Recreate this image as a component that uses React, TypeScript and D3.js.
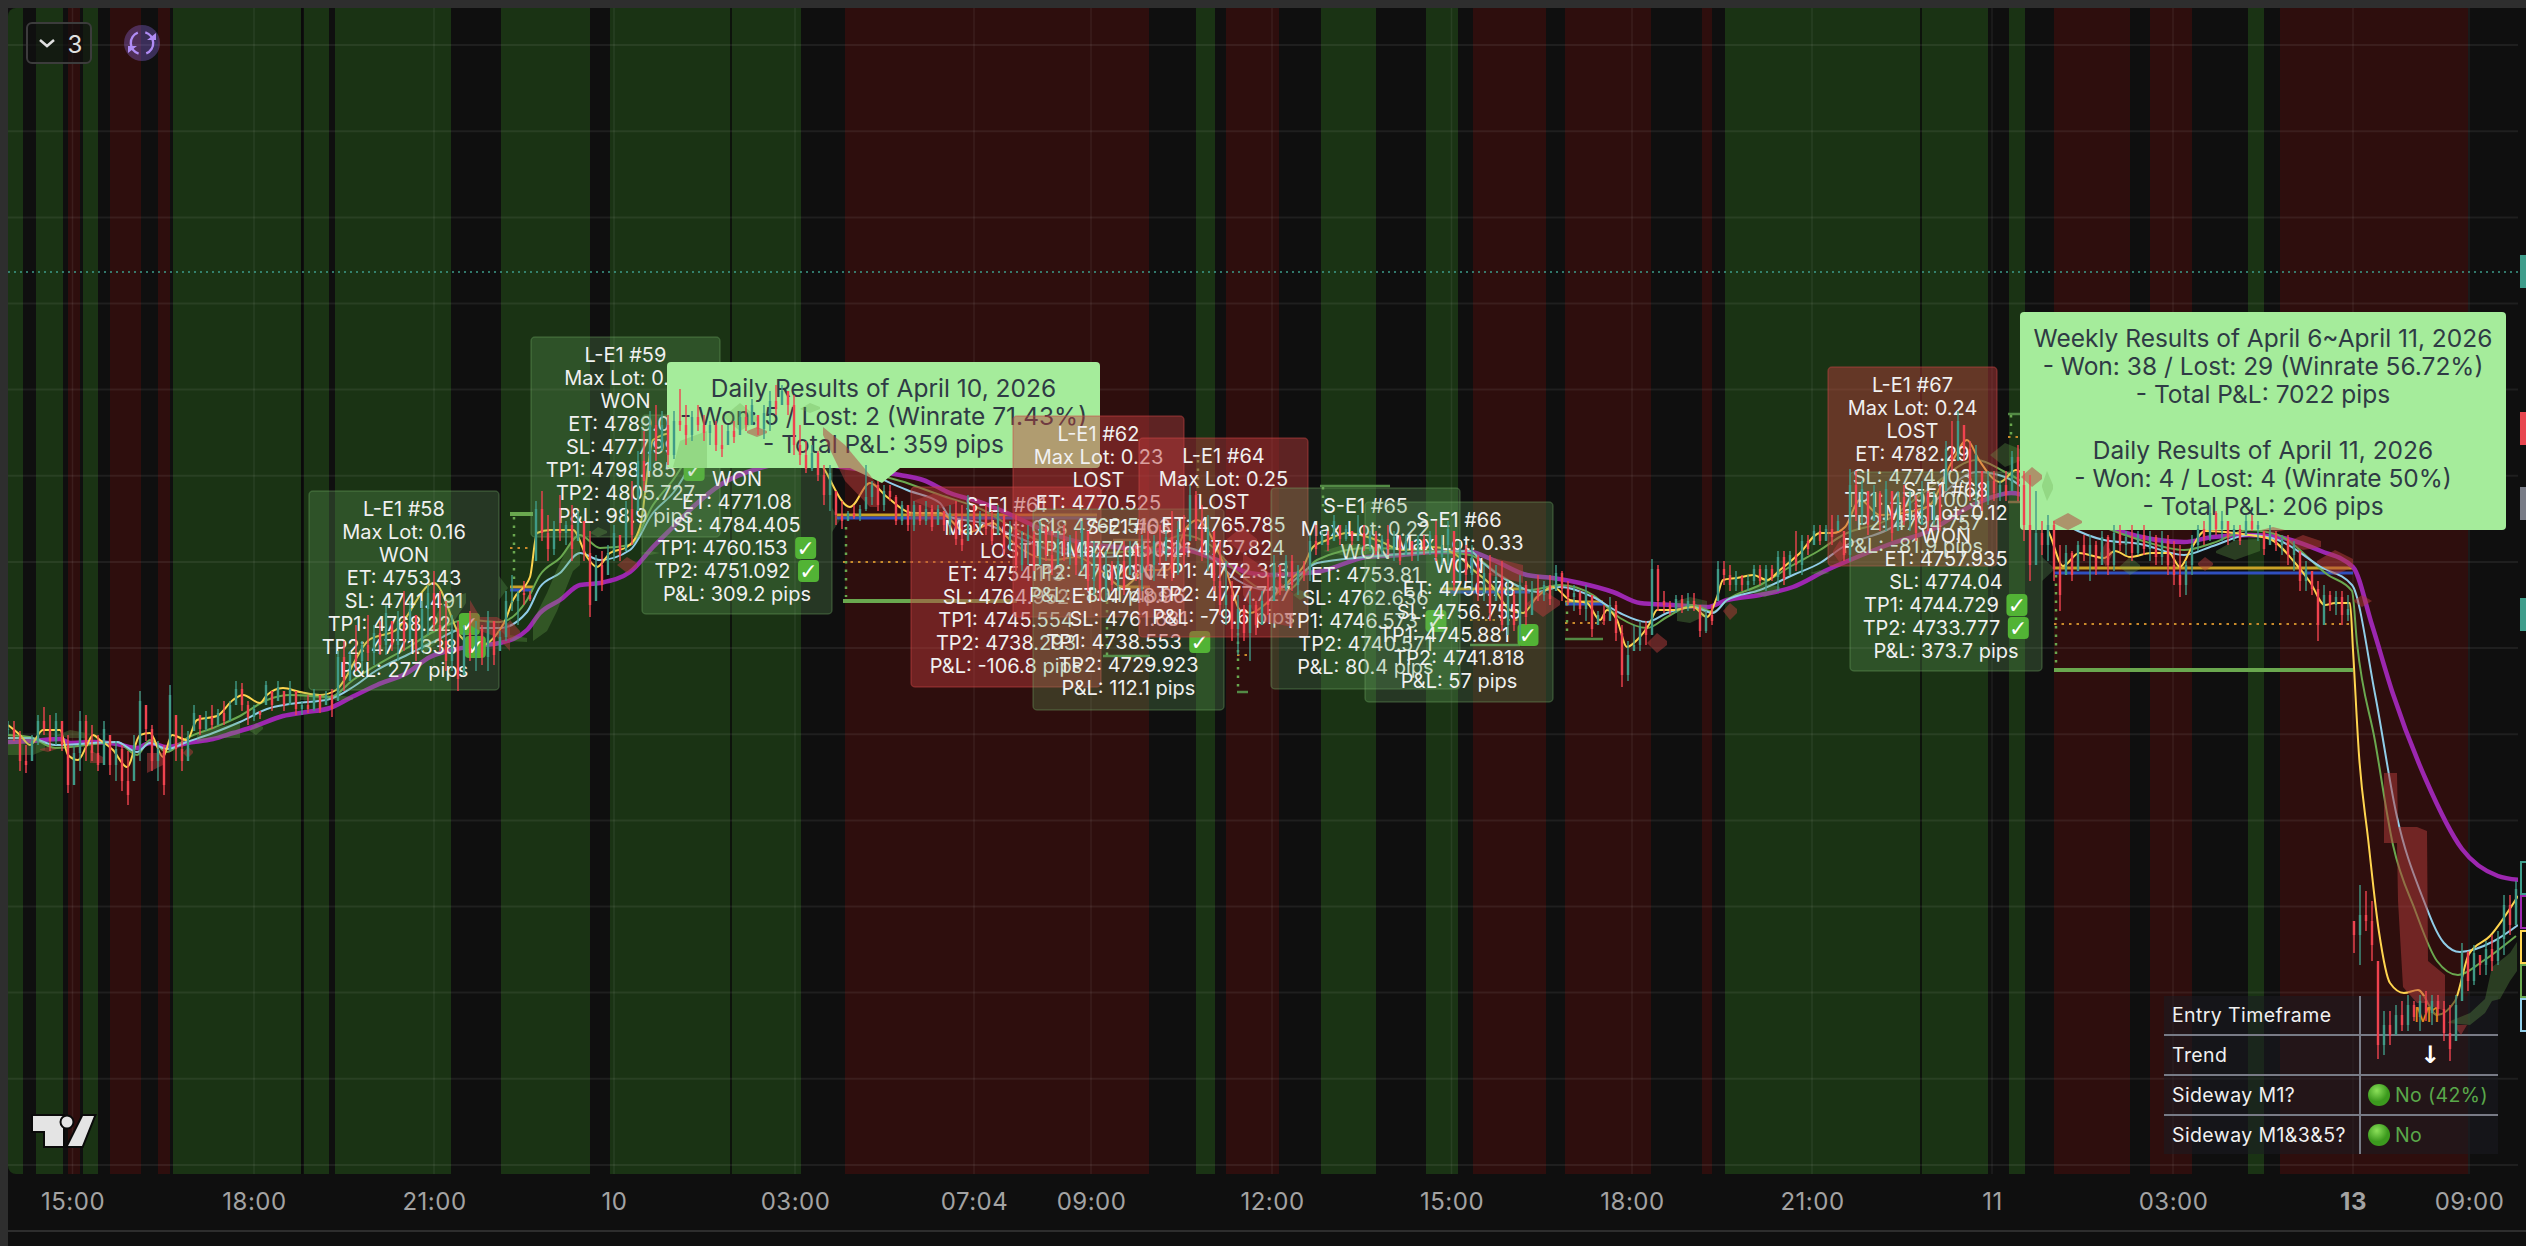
import { useRef, useEffect } from 'react';
import * as d3 from 'd3';

// x is the bar slot of the chart (one slot per minute bar), y is price
const tickBars = [72.5, 254, 434, 614, 795, 974, 1091, 1272, 1451.5, 1632, 1812, 1992, 2173, 2353, 2469];
const tickLabels = ['15:00', '18:00', '21:00', '10', '03:00', '07:04', '09:00', '12:00', '15:00', '18:00', '21:00', '11', '03:00', '13', '09:00'];
const gridPrices = [5050, 5006.9, 4963.8, 4920.8, 4877.7, 4834.6, 4791.5, 4748.5, 4705.4, 4662.3, 4619.2, 4576.2, 4533.1, 4490];
const sessionBreaks = [302, 731, 1921];

const greenBands = [[8, 23], [36, 63], [83, 98], [173, 301], [304, 329], [335, 451], [501, 590], [610, 801], [1196, 1215], [1321, 1376], [1426, 1458], [1725, 1988], [2009, 2025], [2248, 2264]];
const redBands = [[68, 80], [110, 141], [158, 170], [845, 1149], [1226, 1279], [1473, 1546], [1565, 1651], [1702, 1712], [2054, 2130], [2150, 2192], [2280, 2468]];

const firstCandleBar = 8;
const candleStep = 6;
const candleHigh = [
  4712, 4712, 4707, 4700, 4705, 4715, 4719, 4715, 4716, 4712, 4705, 4700, 4717, 4715, 4710, 4705, 4712, 4705, 4702, 4700,
  4697, 4705, 4727, 4720, 4710, 4702, 4700, 4730, 4715, 4710, 4707, 4720, 4715, 4717, 4720, 4718, 4722, 4722, 4732, 4731,
  4722, 4720, 4717, 4732, 4727, 4732, 4727, 4732, 4727, 4722, 4725, 4728, 4725, 4727, 4728, 4747, 4752, 4747, 4760, 4752,
  4765, 4760, 4762, 4770, 4762, 4767, 4777, 4772, 4765, 4772, 4780, 4787, 4777, 4772, 4765, 4762, 4760, 4767, 4762, 4760,
  4767, 4762, 4757, 4777, 4785, 4777, 4782, 4777, 4822, 4827, 4815, 4812, 4825, 4812, 4820, 4817, 4812, 4807, 4795, 4797,
  4800, 4810, 4805, 4822, 4832, 4847, 4857, 4867, 4870, 4867, 4865, 4867, 4878, 4870, 4867, 4870, 4865, 4862, 4862, 4860,
  4860, 4862, 4867, 4870, 4873, 4865, 4870, 4877, 4880, 4880, 4877, 4875, 4860, 4852, 4850, 4847, 4840, 4840, 4827, 4822,
  4817, 4820, 4820, 4840, 4832, 4832, 4830, 4830, 4825, 4822, 4820, 4822, 4820, 4822, 4820, 4820, 4817, 4820, 4822, 4820,
  4825, 4820, 4817, 4820, 4817, 4820, 4815, 4812, 4815, 4807, 4810, 4807, 4812, 4810, 4807, 4807, 4810, 4805, 4807, 4812,
  4807, 4802, 4800, 4797, 4792, 4795, 4802, 4802, 4800, 4805, 4807, 4805, 4810, 4807, 4817, 4812, 4815, 4830, 4827, 4820,
  4815, 4807, 4802, 4792, 4782, 4775, 4770, 4777, 4772, 4777, 4785, 4795, 4790, 4795, 4795, 4790, 4792, 4805, 4810, 4807,
  4807, 4815, 4810, 4810, 4807, 4815, 4810, 4807, 4807, 4805, 4810, 4807, 4805, 4805, 4802, 4805, 4805, 4807, 4812, 4805,
  4812, 4807, 4802, 4800, 4800, 4795, 4790, 4795, 4790, 4792, 4782, 4777, 4785, 4782, 4782, 4785, 4782, 4785, 4790, 4787,
  4782, 4780, 4777, 4780, 4775, 4767, 4770, 4774, 4772, 4760, 4752, 4760, 4762, 4762, 4793, 4790, 4777, 4772, 4775, 4775,
  4776, 4776, 4770, 4767, 4770, 4792, 4792, 4790, 4787, 4785, 4785, 4790, 4790, 4790, 4790, 4797, 4797, 4797, 4807, 4805,
  4805, 4810, 4810, 4810, 4815, 4815, 4807, 4838, 4837, 4832, 4827, 4830, 4827, 4832, 4827, 4827, 4830, 4827, 4825, 4832,
  4827, 4827, 4830, 4852, 4862, 4867, 4860, 4852, 4850, 4837, 4837, 4837, 4832, 4837, 4847, 4850, 4837, 4835, 4827, 4812,
  4815, 4812, 4800, 4800, 4797, 4802, 4805, 4805, 4802, 4807, 4805, 4810, 4810, 4807, 4810, 4807, 4810, 4807, 4805, 4807,
  4805, 4802, 4800, 4792, 4805, 4810, 4812, 4820, 4817, 4817, 4812, 4810, 4810, 4815, 4815, 4812, 4807, 4810, 4807, 4805,
  4805, 4802, 4797, 4792, 4787, 4782, 4780, 4777, 4777, 4777, 4775, 4612, 4630, 4627, 4622, 4592, 4567, 4567, 4570, 4572,
  4575, 4572, 4575, 4577, 4575, 4575, 4572, 4570, 4575, 4601, 4597, 4600, 4595, 4602, 4605, 4607, 4625, 4625, 4632,
];
const candleLow = [
  4705, 4702, 4687, 4686, 4692, 4700, 4705, 4697, 4700, 4697, 4676, 4680, 4687, 4692, 4692, 4687, 4690, 4685, 4682, 4677,
  4670, 4682, 4692, 4702, 4687, 4682, 4675, 4697, 4692, 4687, 4692, 4707, 4705, 4707, 4708, 4710, 4710, 4712, 4720, 4717,
  4710, 4712, 4713, 4720, 4717, 4722, 4717, 4720, 4715, 4715, 4716, 4717, 4716, 4720, 4714, 4722, 4727, 4732, 4737, 4737,
  4742, 4740, 4745, 4745, 4747, 4742, 4747, 4752, 4742, 4747, 4755, 4757, 4747, 4737, 4737, 4727, 4735, 4742, 4737, 4740,
  4737, 4740, 4747, 4752, 4767, 4760, 4770, 4772, 4792, 4802, 4792, 4795, 4802, 4800, 4792, 4802, 4792, 4764, 4772, 4777,
  4785, 4792, 4792, 4797, 4800, 4817, 4827, 4837, 4842, 4847, 4840, 4843, 4857, 4850, 4852, 4857, 4852, 4850, 4847, 4844,
  4850, 4851, 4855, 4857, 4860, 4855, 4853, 4857, 4865, 4870, 4865, 4845, 4840, 4836, 4837, 4832, 4820, 4817, 4810, 4808,
  4812, 4813, 4812, 4817, 4820, 4817, 4817, 4822, 4810, 4810, 4807, 4807, 4810, 4810, 4807, 4810, 4807, 4805, 4800, 4797,
  4802, 4807, 4807, 4805, 4800, 4805, 4795, 4797, 4787, 4787, 4790, 4787, 4790, 4792, 4785, 4790, 4792, 4790, 4785, 4787,
  4777, 4775, 4772, 4772, 4777, 4777, 4775, 4785, 4782, 4777, 4787, 4782, 4790, 4792, 4782, 4785, 4790, 4802, 4802, 4792,
  4787, 4777, 4765, 4760, 4752, 4745, 4752, 4742, 4755, 4760, 4765, 4772, 4775, 4777, 4777, 4775, 4782, 4782, 4795, 4800,
  4797, 4802, 4800, 4802, 4800, 4802, 4797, 4797, 4795, 4795, 4795, 4792, 4790, 4795, 4792, 4792, 4795, 4795, 4792, 4790,
  4790, 4777, 4782, 4782, 4777, 4772, 4772, 4762, 4772, 4757, 4755, 4757, 4752, 4760, 4765, 4772, 4772, 4770, 4777, 4772,
  4770, 4767, 4765, 4762, 4754, 4760, 4760, 4762, 4752, 4729, 4732, 4747, 4747, 4750, 4755, 4767, 4766, 4765, 4766, 4766,
  4767, 4767, 4754, 4756, 4760, 4772, 4780, 4777, 4777, 4777, 4777, 4780, 4780, 4777, 4782, 4777, 4780, 4785, 4787, 4785,
  4795, 4800, 4800, 4802, 4800, 4807, 4792, 4792, 4812, 4810, 4805, 4812, 4807, 4807, 4802, 4807, 4810, 4807, 4802, 4810,
  4807, 4810, 4807, 4827, 4837, 4842, 4842, 4822, 4820, 4817, 4820, 4822, 4822, 4822, 4827, 4822, 4802, 4782, 4790, 4795,
  4792, 4782, 4767, 4785, 4782, 4787, 4792, 4782, 4785, 4790, 4785, 4787, 4797, 4795, 4792, 4795, 4795, 4792, 4790, 4790,
  4785, 4780, 4774, 4775, 4785, 4797, 4800, 4802, 4805, 4802, 4800, 4802, 4800, 4805, 4807, 4802, 4795, 4800, 4797, 4795,
  4790, 4787, 4777, 4777, 4775, 4752, 4760, 4767, 4765, 4760, 4762, 4596, 4590, 4607, 4592, 4543, 4545, 4550, 4555, 4557,
  4557, 4562, 4557, 4562, 4560, 4565, 4552, 4542, 4552, 4572, 4577, 4580, 4585, 4585, 4587, 4590, 4595, 4605, 4610,
];
const candleClose = [
  4708, 4704, 4692, 4690, 4702, 4712, 4708, 4702, 4712, 4700, 4680, 4696, 4712, 4700, 4696, 4690, 4708, 4690, 4698, 4682,
  4675, 4700, 4722, 4708, 4692, 4698, 4680, 4725, 4698, 4692, 4704, 4716, 4708, 4714, 4710, 4716, 4712, 4720, 4728, 4720,
  4714, 4718, 4715, 4730, 4720, 4729, 4720, 4728, 4718, 4720, 4718, 4726, 4718, 4725, 4718, 4744, 4732, 4745, 4742, 4750,
  4746, 4756, 4750, 4766, 4750, 4762, 4752, 4768, 4748, 4768, 4776, 4760, 4752, 4742, 4758, 4733, 4756, 4746, 4758, 4744,
  4762, 4745, 4754, 4772, 4772, 4776, 4775, 4773, 4818, 4806, 4798, 4808, 4806, 4810, 4798, 4812, 4796, 4770, 4790, 4780,
  4796, 4806, 4795, 4818, 4805, 4842, 4832, 4860, 4848, 4860, 4845, 4862, 4860, 4855, 4864, 4860, 4856, 4860, 4850, 4848,
  4857, 4854, 4864, 4860, 4870, 4858, 4866, 4872, 4868, 4877, 4870, 4850, 4845, 4838, 4846, 4835, 4825, 4836, 4815, 4812,
  4816, 4814, 4818, 4824, 4830, 4820, 4827, 4824, 4812, 4820, 4810, 4820, 4812, 4818, 4809, 4818, 4810, 4816, 4803, 4800,
  4820, 4810, 4815, 4808, 4802, 4816, 4798, 4808, 4790, 4803, 4805, 4790, 4808, 4795, 4788, 4803, 4796, 4802, 4790, 4808,
  4782, 4796, 4778, 4790, 4780, 4792, 4778, 4798, 4786, 4800, 4790, 4802, 4795, 4804, 4786, 4808, 4795, 4825, 4808, 4796,
  4808, 4782, 4770, 4775, 4758, 4768, 4756, 4770, 4760, 4772, 4770, 4790, 4778, 4792, 4780, 4787, 4785, 4802, 4798, 4805,
  4800, 4812, 4803, 4808, 4802, 4806, 4800, 4805, 4797, 4803, 4798, 4804, 4792, 4802, 4795, 4803, 4798, 4805, 4794, 4800,
  4808, 4780, 4798, 4785, 4794, 4776, 4786, 4766, 4784, 4760, 4775, 4760, 4780, 4764, 4778, 4775, 4780, 4773, 4786, 4778,
  4774, 4776, 4768, 4776, 4758, 4765, 4762, 4770, 4756, 4735, 4745, 4750, 4759, 4755, 4788, 4772, 4770, 4768, 4773, 4769,
  4772, 4770, 4757, 4765, 4762, 4788, 4785, 4780, 4784, 4780, 4782, 4788, 4782, 4788, 4784, 4794, 4783, 4795, 4790, 4802,
  4798, 4807, 4802, 4808, 4804, 4812, 4795, 4830, 4815, 4828, 4810, 4826, 4812, 4828, 4806, 4824, 4812, 4822, 4806, 4826,
  4812, 4824, 4812, 4848, 4842, 4862, 4848, 4830, 4845, 4822, 4832, 4826, 4830, 4825, 4844, 4830, 4810, 4790, 4806, 4800,
  4810, 4788, 4775, 4796, 4785, 4800, 4795, 4800, 4788, 4804, 4790, 4806, 4800, 4804, 4796, 4805, 4798, 4804, 4794, 4802,
  4790, 4785, 4780, 4790, 4800, 4808, 4804, 4816, 4808, 4812, 4804, 4808, 4802, 4812, 4808, 4810, 4798, 4806, 4800, 4803,
  4795, 4800, 4782, 4788, 4778, 4760, 4775, 4770, 4774, 4765, 4768, 4605, 4615, 4612, 4600, 4550, 4560, 4555, 4565, 4560,
  4570, 4564, 4572, 4566, 4572, 4568, 4556, 4548, 4570, 4596, 4582, 4596, 4590, 4598, 4592, 4603, 4620, 4610, 4628,
];

const purpleLine = [[8, 4701.5], [33, 4702], [60, 4703], [70, 4701], [93, 4701.5], [117, 4700.5], [137, 4698.5], [150, 4701], [167, 4699], [187, 4701], [213, 4703], [233, 4706], [253, 4709], [283, 4714.5], [307, 4716.5], [330, 4718.5], [350, 4723.5], [377, 4730], [407, 4736], [430, 4744], [457, 4748], [483, 4750], [500, 4751], [527, 4757.5], [540, 4766], [560, 4772.5], [580, 4780], [600, 4781], [630, 4786.5], [653, 4799], [673, 4809], [693, 4819], [720, 4830], [760, 4838.5], [800, 4841.5], [850, 4838.5], [900, 4835], [923, 4832.5], [950, 4826], [983, 4821], [1007, 4816], [1050, 4806], [1083, 4801], [1117, 4799], [1150, 4797.5], [1183, 4797.5], [1217, 4792.5], [1250, 4786], [1270, 4785], [1317, 4786.5], [1367, 4794], [1400, 4795], [1433, 4796.5], [1470, 4796.5], [1493, 4792.5], [1527, 4785], [1553, 4783.5], [1580, 4781], [1613, 4776.5], [1640, 4771], [1673, 4770], [1707, 4769], [1727, 4772.5], [1760, 4775], [1793, 4779], [1827, 4787.5], [1850, 4792.5], [1893, 4801], [1927, 4806.5], [1977, 4821], [2011, 4826], [2050, 4820], [2090, 4812.5], [2119, 4807], [2184, 4801.5], [2213, 4804], [2249, 4805], [2278, 4804], [2321, 4797], [2353, 4789], [2372, 4760], [2393, 4725.5], [2426, 4682.5], [2462, 4648], [2498, 4634.5], [2520, 4632.5]];
const blueLine = [[8, 4703.5], [30, 4703.5], [55, 4700], [117, 4701.5], [137, 4696.5], [150, 4701], [167, 4698], [187, 4701.5], [213, 4706], [240, 4711.5], [267, 4718], [290, 4720.5], [330, 4723], [353, 4729], [377, 4737.5], [407, 4745], [433, 4751.5], [467, 4758.5], [500, 4758.5], [527, 4766.5], [540, 4779], [560, 4786], [580, 4796], [600, 4792.5], [630, 4797.5], [653, 4816], [673, 4826], [693, 4841], [730, 4852.5], [780, 4852.5], [850, 4847.5], [873, 4836], [907, 4827.5], [940, 4821], [950, 4814], [983, 4811], [1017, 4804], [1050, 4797.5], [1100, 4794], [1150, 4796], [1183, 4799], [1210, 4794], [1237, 4782.5], [1267, 4777.5], [1287, 4780], [1317, 4791], [1367, 4794], [1417, 4796], [1470, 4797], [1483, 4791], [1510, 4781.5], [1537, 4776.5], [1560, 4779], [1593, 4774], [1620, 4766], [1647, 4761.5], [1667, 4766], [1693, 4769], [1713, 4766], [1727, 4772.5], [1760, 4777.5], [1793, 4785], [1820, 4791], [1843, 4799], [1887, 4807.5], [1927, 4819], [1977, 4836.5], [2005, 4834], [2068, 4809.5], [2104, 4802.5], [2140, 4800.5], [2184, 4795], [2213, 4799.5], [2249, 4805], [2278, 4802.5], [2321, 4789], [2352, 4780], [2375, 4725.5], [2397, 4664], [2422, 4624.5], [2444, 4601], [2460, 4596.5], [2494, 4602], [2518, 4610]];
const greenLine = [[8, 4705], [30, 4704], [55, 4698.5], [117, 4701.5], [137, 4695], [150, 4702.5], [167, 4696.5], [187, 4703.5], [213, 4708.5], [240, 4714.5], [267, 4722.5], [290, 4725], [330, 4724], [353, 4732.5], [377, 4740], [407, 4748.5], [433, 4756.5], [467, 4762.5], [500, 4761.5], [527, 4772.5], [540, 4785], [560, 4793.5], [580, 4805], [600, 4798.5], [630, 4800], [653, 4820], [673, 4832.5], [693, 4847.5], [720, 4860], [780, 4857.5], [850, 4850], [873, 4837.5], [907, 4831], [940, 4825], [983, 4817.5], [1017, 4807.5], [1050, 4800], [1100, 4796], [1150, 4798.5], [1183, 4805], [1210, 4800], [1237, 4786.5], [1267, 4777.5], [1287, 4777.5], [1317, 4792.5], [1367, 4798.5], [1417, 4797.5], [1470, 4795], [1500, 4785], [1530, 4777.5], [1560, 4780], [1593, 4775], [1620, 4763.5], [1647, 4758.5], [1667, 4764], [1693, 4770], [1713, 4766.5], [1727, 4772.5], [1760, 4780], [1793, 4790], [1820, 4797.5], [1843, 4805], [1887, 4812.5], [1927, 4827.5], [1977, 4842.5], [2005, 4836.5], [2068, 4817.5], [2104, 4809], [2140, 4802.5], [2184, 4797.5], [2213, 4801], [2249, 4807.5], [2278, 4805], [2328, 4785], [2352, 4777], [2357, 4751], [2375, 4702], [2393, 4650], [2415, 4617.5], [2437, 4592], [2458, 4585], [2483, 4592], [2516, 4604.5]];
const yellowLine = [[8, 4710], [20, 4705], [30, 4700], [43, 4707.5], [60, 4707.5], [68, 4695], [78, 4692.5], [87, 4700], [93, 4705], [100, 4702.5], [113, 4697.5], [127, 4689], [140, 4705], [150, 4706], [163, 4694], [172, 4705], [187, 4702.5], [197, 4712.5], [217, 4714.5], [233, 4722.5], [243, 4725], [260, 4721], [267, 4725], [283, 4728.5], [300, 4726.5], [320, 4725], [336, 4727.5], [369, 4752.5], [396, 4757.5], [434, 4781], [461, 4754], [477, 4749], [504, 4761], [513, 4772.5], [530, 4784], [537, 4806], [550, 4807.5], [573, 4807.5], [587, 4794], [597, 4789], [610, 4796], [627, 4799], [640, 4809], [653, 4852.5], [673, 4856], [720, 4852.5], [800, 4857.5], [823, 4839], [850, 4819], [870, 4831], [887, 4824], [913, 4816], [940, 4816], [967, 4806], [993, 4811], [1007, 4804], [1023, 4797.5], [1053, 4792.5], [1077, 4794], [1100, 4787.5], [1123, 4779], [1147, 4787.5], [1167, 4787.5], [1187, 4809], [1197, 4812.5], [1213, 4802.5], [1227, 4786], [1240, 4767.5], [1250, 4766], [1270, 4772.5], [1290, 4782.5], [1303, 4789], [1313, 4799], [1327, 4802.5], [1347, 4806], [1377, 4802.5], [1403, 4797.5], [1433, 4799], [1463, 4792.5], [1470, 4789], [1493, 4779], [1510, 4767.5], [1523, 4766], [1537, 4774], [1553, 4779], [1570, 4772.5], [1587, 4771], [1600, 4762.5], [1607, 4767.5], [1617, 4762.5], [1627, 4749], [1637, 4752.5], [1650, 4761], [1657, 4767.5], [1673, 4767.5], [1693, 4769], [1707, 4764], [1717, 4774], [1723, 4782.5], [1737, 4783.5], [1753, 4785], [1767, 4782.5], [1780, 4787.5], [1800, 4796], [1820, 4806], [1833, 4806], [1845, 4809], [1860, 4822.5], [1880, 4815], [1927, 4819], [1953, 4842.5], [1967, 4852.5], [1979, 4842.5], [2000, 4831.5], [2016, 4837.5], [2050, 4805], [2063, 4789.5], [2079, 4796], [2104, 4793.5], [2115, 4797], [2130, 4794], [2151, 4796], [2169, 4796], [2180, 4789], [2191, 4798], [2205, 4807], [2249, 4805], [2270, 4803], [2296, 4790.5], [2310, 4781.5], [2325, 4770], [2335, 4771], [2350, 4771], [2353, 4747.5], [2359, 4695], [2368, 4653.5], [2379, 4606.5], [2390, 4581], [2404, 4576], [2418, 4577.5], [2437, 4565], [2455, 4572], [2469, 4595.5], [2490, 4604.5], [2518, 4624.5]];

// cloud patches: [bar, upper, lower]
const greenCloud = [
  [[8, 4705, 4695], [33, 4704, 4695], [45, 4701.5, 4697.5]],
  [[57, 4705, 4704.5], [70, 4707.5, 4703.5], [87, 4706, 4703.5]],
  [[197, 4705, 4701.5], [215, 4708.5, 4703.5], [240, 4711.5, 4703.5]],
  [[250, 4708, 4707], [256, 4711, 4705], [263, 4709, 4708]],
  [[300, 4726.5, 4722.5], [353, 4724, 4722.5]],
  [[423, 4752.5, 4745], [445, 4773, 4755], [466, 4776, 4771]],
  [[510, 4755, 4752], [527, 4753.5, 4751.5]],
  [[533, 4762, 4752], [547, 4776, 4757], [557, 4788, 4767], [573, 4804, 4787], [580, 4804, 4790]],
  [[590, 4806, 4806], [598, 4809, 4804], [607, 4807, 4806]],
  [[640, 4796, 4796], [650, 4797, 4795], [660, 4796, 4796]],
  [[673, 4839, 4839], [680, 4852, 4838.5], [707, 4857, 4838.5]],
  [[723, 4864, 4864], [740, 4871, 4857], [757, 4864, 4862]],
  [[800, 4868, 4868], [810, 4871, 4866], [820, 4869, 4868]],
  [[1293, 4775, 4775], [1300, 4777.5, 4772.5], [1310, 4775, 4775]],
  [[1323, 4797, 4797], [1350, 4801, 4794], [1383, 4798, 4797]],
  [[1677, 4772, 4762], [1690, 4774, 4761], [1707, 4772, 4765]],
  [[1747, 4778, 4777], [1765, 4781, 4774], [1780, 4779, 4777]],
  [[1810, 4786, 4786], [1820, 4787.5, 4785], [1830, 4786, 4786]],
  [[1990, 4845, 4845], [2005, 4851, 4839], [2020, 4848, 4842]],
  [[2042, 4830, 4829], [2047, 4837, 4822], [2053, 4830, 4828]],
  [[2119, 4789, 4789], [2130, 4794, 4785], [2140, 4790, 4788]],
  [[2216, 4797, 4796], [2235, 4802.5, 4792.5], [2260, 4803, 4797]],
  [[2448, 4561.5, 4561], [2470, 4566, 4560], [2485, 4573, 4566], [2492, 4589, 4572], [2500, 4592, 4573], [2510, 4596, 4582], [2517, 4601.5, 4587]],
];
const redCloud = [
  [[40, 4698, 4697.5], [48, 4699, 4696.5], [57, 4698, 4698]],
  [[90, 4697.5, 4691], [103, 4694, 4691]],
  [[147, 4696, 4686], [163, 4696, 4690]],
  [[183, 4696, 4696], [188, 4699, 4693.5], [193, 4697, 4696]],
  [[470, 4772.5, 4760], [480, 4764, 4757], [497, 4764, 4754], [510, 4760, 4747]],
  [[501, 4757, 4757], [510, 4762.5, 4752.5], [520, 4757, 4756]],
  [[617, 4790, 4790], [627, 4794, 4786], [637, 4791, 4789]],
  [[747, 4857, 4856], [757, 4859, 4854], [767, 4857, 4856]],
  [[823, 4859, 4855], [845, 4850, 4832], [870, 4835, 4819], [877, 4830, 4819]],
  [[913, 4822, 4822], [935, 4826, 4817.5], [957, 4822, 4821]],
  [[1227, 4803, 4802], [1242, 4809, 4796], [1257, 4803, 4800]],
  [[1243, 4796, 4775], [1260, 4790, 4762], [1293, 4776, 4759]],
  [[1490, 4794, 4785], [1523, 4790, 4781]],
  [[1527, 4771, 4770], [1543, 4777.5, 4764], [1560, 4772, 4770]],
  [[1647, 4751, 4751], [1657, 4756, 4746], [1667, 4752, 4750]],
  [[1723, 4767, 4767], [1730, 4771, 4762.5], [1737, 4768, 4766]],
  [[1833, 4797, 4796], [1840, 4802.5, 4791], [1847, 4797, 4796]],
  [[2021, 4834, 4834], [2032, 4839, 4829], [2042, 4835, 4833]],
  [[2053, 4812, 4811], [2068, 4816, 4807.5], [2082, 4812, 4811]],
  [[2100, 4796, 4795], [2106, 4801.5, 4789], [2112, 4796, 4795]],
  [[2198, 4791, 4790], [2205, 4794, 4787], [2213, 4791, 4790]],
  [[2261, 4807.5, 4807.5], [2273, 4809, 4806], [2285, 4807.5, 4807.5]],
  [[2285, 4801, 4801], [2303, 4805, 4797.5], [2321, 4802, 4799]],
  [[2317, 4792, 4791], [2335, 4797.5, 4785], [2353, 4793, 4789]],
  [[2353, 4772, 4772], [2362, 4775, 4769], [2372, 4772, 4772]],
  [[2384, 4686, 4651], [2397, 4686, 4651], [2398, 4659, 4622], [2403, 4659, 4579], [2417, 4659, 4571], [2427, 4657, 4571], [2428, 4592, 4570], [2445, 4585, 4567]],
  [[2455, 4560, 4559], [2461, 4560, 4555], [2467, 4560, 4560]],
];

// trade levels: [fromBar, toBar, price]
const targetLevels = [[510, 533, 4815.5], [843, 1017, 4772], [2054, 2353, 4737.5]];
const thinTargetLevels = [[1103, 1150, 4744.5], [1320, 1390, 4829.5], [1237, 1248, 4726.5], [1470, 1520, 4750], [1565, 1603, 4753], [2008, 2021, 4865.5]];
const entryLevels = [[510, 530, 4798.5], [843, 1010, 4791.5], [1237, 1248, 4745], [1470, 1520, 4762.5], [1565, 1603, 4761], [2054, 2353, 4760.5], [2008, 2021, 4854]];
const yellowLevels = [[510, 533, 4779], [837, 1097, 4815], [1120, 1150, 4779], [1440, 1523, 4778], [1565, 1603, 4771.5], [2054, 2353, 4788.5]];
const blueLevels = [[510, 533, 4777.5], [837, 1097, 4813.5], [1440, 1530, 4776.5], [1565, 1603, 4770.5], [2054, 2353, 4786]];
const brownLevels = [[1113, 1150, 4802.5], [2008, 2021, 4821.5]];
// dotted stems: [bar, fromPrice, toPrice]
const levelStems = [[514, 4814, 4783], [846, 4809, 4774], [1107, 4776, 4745], [1323, 4829, 4817.5], [1238, 4756, 4727.5], [1198, 4842.5, 4825], [1567, 4771, 4754], [2056, 4785, 4740], [2011, 4865, 4854]];
const alertPrice = 4936.5;

const trade58 = ['L-E1 #58', 'Max Lot: 0.16', 'WON', 'ET: 4753.43', 'SL: 4741.491', 'TP1: 4768.22 ✅', 'TP2: 4771.338 ✅', 'P&L: 277 pips'];
const trade59 = ['L-E1 #59', 'Max Lot: 0.17', 'WON', 'ET: 4789.04', 'SL: 4777.991', 'TP1: 4798.185 ✅', 'TP2: 4805.727', 'P&L: 98.9 pips'];
const trade60 = ['S-E1 #60', 'Max Lot: 0.14', 'WON', 'ET: 4771.08', 'SL: 4784.405', 'TP1: 4760.153 ✅', 'TP2: 4751.092 ✅', 'P&L: 309.2 pips'];
const trade61 = ['S-E1 #61', 'Max Lot: 0.18', 'LOST', 'ET: 4754.113', 'SL: 4764.952', 'TP1: 4745.554', 'TP2: 4738.293', 'P&L: -106.8 pips'];
const trade62 = ['L-E1 #62', 'Max Lot: 0.23', 'LOST', 'ET: 4770.525', 'SL: 4762.510', 'TP1: 4777.450', 'TP2: 4782.804', 'P&L: -80.1 pips'];
const trade63 = ['S-E1 #63', 'Max Lot: 0.21', 'WON', 'ET: 4748.96', 'SL: 4761.681', 'TP1: 4738.553 ✅', 'TP2: 4729.923', 'P&L: 112.1 pips'];
const trade64 = ['L-E1 #64', 'Max Lot: 0.25', 'LOST', 'ET: 4765.785', 'SL: 4757.824', 'TP1: 4772.313', 'TP2: 4777.727', 'P&L: -79.6 pips'];
const trade65 = ['S-E1 #65', 'Max Lot: 0.22', 'WON', 'ET: 4753.81', 'SL: 4762.636', 'TP1: 4746.573 ✅', 'TP2: 4740.571', 'P&L: 80.4 pips'];
const trade66 = ['S-E1 #66', 'Max Lot: 0.33', 'WON', 'ET: 4750.78', 'SL: 4756.755', 'TP1: 4745.881 ✅', 'TP2: 4741.818', 'P&L: 57 pips'];
const trade67 = ['L-E1 #67', 'Max Lot: 0.24', 'LOST', 'ET: 4782.29', 'SL: 4774.103', 'TP1: 4790.003', 'TP2: 4794.757', 'P&L: -81.9 pips'];
const trade68 = ['S-E1 #68', 'Max Lot: 0.12', 'WON', 'ET: 4757.935', 'SL: 4774.04', 'TP1: 4744.729 ✅', 'TP2: 4733.777 ✅', 'P&L: 373.7 pips'];

const dailyResults = ['Daily Results of April 10, 2026', '- Won: 5 / Lost: 2 (Winrate 71.43%)', '- Total P&L: 359 pips'];
const weeklyResults = ['Weekly Results of April 6~April 11, 2026', '- Won: 38 / Lost: 29 (Winrate 56.72%)', '- Total P&L: 7022 pips', '', 'Daily Results of April 11, 2026', '- Won: 4 / Lost: 4 (Winrate 50%)', '- Total P&L: 206 pips'];

const tableRows = ['Entry Timeframe', 'Trend', 'Sideway M1?', 'Sideway M1&3&5?'];

const WIDTH = 2526;
const HEIGHT = 1246;
const PANE_LEFT = 8;
const PANE_RIGHT = 2518;
const PANE_TOP = 8;
const PANE_BOTTOM = 1174;
const FONT = 'Inter, "Noto Sans", sans-serif';

const App = () => {
  const svgRef = useRef<SVGSVGElement>(null);

  useEffect(() => {
    const svg = d3.select(svgRef.current);
    svg.selectAll('*').remove();

    const x = d3.scaleLinear().domain([0, WIDTH]).range([0, WIDTH]);
    const y = d3.scaleLinear().domain([5050, 4490]).range([45, 1165]);

    svg.append('rect').attr('width', WIDTH).attr('height', HEIGHT).attr('fill', '#0f0f0f');
    svg.append('rect').attr('width', WIDTH).attr('height', PANE_TOP).attr('fill', '#2e2e2e');
    svg.append('rect').attr('width', PANE_LEFT).attr('height', HEIGHT).attr('fill', '#2e2e2e');
    svg.append('rect').attr('x', PANE_LEFT).attr('y', 1230).attr('width', WIDTH).attr('height', 2).attr('fill', '#2e2e2e');

    const defs = svg.append('defs');
    defs.append('clipPath').attr('id', 'pane').append('rect')
      .attr('x', PANE_LEFT).attr('y', PANE_TOP).attr('width', PANE_RIGHT - PANE_LEFT).attr('height', PANE_BOTTOM - PANE_TOP).attr('rx', 8);
    const ball = defs.append('radialGradient').attr('id', 'ball').attr('cx', '40%').attr('cy', '30%');
    ball.append('stop').attr('offset', '0%').attr('stop-color', '#8be05a');
    ball.append('stop').attr('offset', '100%').attr('stop-color', '#3c9a1e');

    const pane = svg.append('g').attr('clip-path', 'url(#pane)');

    // session bands
    const bandY = PANE_TOP;
    const bandH = PANE_BOTTOM - PANE_TOP;
    const drawBands = (bands: number[][], color: string) => {
      pane.append('g').selectAll('rect').data(bands).join('rect')
        .attr('x', d => x(d[0]))
        .attr('width', d => x(d[1]) - x(d[0]))
        .attr('y', bandY)
        .attr('height', bandH)
        .attr('fill', color);
    };
    drawBands(greenBands, '#1a3314');
    drawBands(redBands, '#2e0e0d');

    pane.append('g').selectAll('line').data(sessionBreaks).join('line')
      .attr('x1', d => x(d)).attr('x2', d => x(d))
      .attr('y1', bandY).attr('y2', PANE_BOTTOM)
      .attr('stroke', '#0a0a0a').attr('stroke-width', 1.5);

    // grid
    const gridColor = 'rgba(255,255,255,0.065)';
    pane.append('g').selectAll('line').data(gridPrices).join('line')
      .attr('x1', PANE_LEFT).attr('x2', PANE_RIGHT)
      .attr('y1', d => y(d)).attr('y2', d => y(d))
      .attr('stroke', gridColor).attr('stroke-width', 2);
    pane.append('g').selectAll('line').data(tickBars).join('line')
      .attr('x1', d => x(d)).attr('x2', d => x(d))
      .attr('y1', bandY).attr('y2', PANE_BOTTOM)
      .attr('stroke', gridColor).attr('stroke-width', 1.5);

    pane.append('line')
      .attr('x1', PANE_LEFT).attr('x2', PANE_RIGHT)
      .attr('y1', y(alertPrice)).attr('y2', y(alertPrice))
      .attr('stroke', '#3e9c8a').attr('stroke-width', 1.5).attr('stroke-dasharray', '2 4');

    // trade levels
    const drawLevels = (levels: number[][], color: string, width: number, dash?: string) => {
      pane.append('g').selectAll('line').data(levels).join('line')
        .attr('x1', d => x(d[0])).attr('x2', d => x(d[1]))
        .attr('y1', d => y(d[2])).attr('y2', d => y(d[2]))
        .attr('stroke', color).attr('stroke-width', width)
        .attr('stroke-dasharray', dash || null);
    };
    drawLevels(targetLevels, '#6aa84f', 4);
    drawLevels(thinTargetLevels, '#538a45', 2.5);
    drawLevels(entryLevels, '#c98a2b', 2, '2.5 5');
    drawLevels(brownLevels, '#8a5a3a', 2.5);
    drawLevels(yellowLevels, '#c9a227', 3);
    drawLevels(blueLevels, '#2f4fbf', 3);
    pane.append('g').selectAll('line').data(levelStems).join('line')
      .attr('x1', d => x(d[0])).attr('x2', d => x(d[0]))
      .attr('y1', d => y(d[1])).attr('y2', d => y(d[2]))
      .attr('stroke', '#6aa84f').attr('stroke-width', 2.5).attr('stroke-dasharray', '2.5 6');

    // moving averages sit under the labels
    const line = d3.line<number[]>().x(d => x(d[0])).y(d => y(d[1])).curve(d3.curveMonotoneX);
    const drawLine = (points: number[][], color: string, width: number) => {
      pane.append('path').attr('d', line(points)).attr('fill', 'none')
        .attr('stroke', color).attr('stroke-width', width).attr('stroke-linejoin', 'round');
    };
    drawLine(purpleLine, '#9c27b0', 4.5);
    drawLine(greenLine, '#6aa84f', 2);
    drawLine(blueLine, '#90cde8', 2);
    drawLine(yellowLine, '#ffd54f', 2);

    // labels
    const drawCheck = (parent: any, cx: number, cy: number) => {
      parent.append('rect').attr('x', cx - 10.5).attr('y', cy - 11).attr('width', 21).attr('height', 22).attr('rx', 4).attr('fill', '#52b335');
      parent.append('text').attr('x', cx).attr('y', cy + 0.5)
        .attr('text-anchor', 'middle').attr('dominant-baseline', 'central')
        .attr('font-family', '"DejaVu Sans"').attr('font-weight', 700).attr('font-size', 22).attr('fill', '#ffffff').text('✓');
    };

    const drawTrade = (lines: string[], box: number[], tip?: number[]) => {
      const [x0, x1, y0, y1] = box;
      const won = lines[2] === 'WON';
      const fill = won ? 'rgba(105,165,95,0.27)' : 'rgba(190,60,60,0.45)';
      const stroke = won ? 'rgba(120,180,105,0.3)' : 'rgba(205,70,70,0.4)';
      const g = pane.append('g');
      if (tip) {
        g.append('path').attr('d', `M${x1},${tip[1] - 12}L${tip[0]},${tip[1]}L${x1},${tip[1] + 12}Z`).attr('fill', fill);
      }
      g.append('rect').attr('x', x0).attr('y', y0).attr('width', x1 - x0).attr('height', y1 - y0).attr('rx', 4)
        .attr('fill', fill).attr('stroke', stroke).attr('stroke-width', 1.5);
      const mid = (x0 + x1) / 2;
      lines.forEach((raw, i) => {
        const check = raw.endsWith('✅');
        const label = raw.replace(' ✅', '');
        const cy = y0 + 18 + i * 23;
        const t = g.append('text').attr('y', cy).attr('dominant-baseline', 'central')
          .attr('font-family', FONT).attr('font-size', 20).attr('fill', '#f0f0f0').text(label);
        const w = (t.node() as SVGTextElement).getComputedTextLength();
        const total = check ? w + 29 : w;
        t.attr('x', mid - total / 2);
        if (check) drawCheck(g, mid - total / 2 + w + 18, cy);
      });
    };

    const drawResults = (lines: string[], box: number[], lineY: number[], size: number, pointer?: number[]) => {
      const [x0, x1, y0, y1] = box;
      const g = pane.append('g');
      g.append('rect').attr('x', x0).attr('y', y0).attr('width', x1 - x0).attr('height', y1 - y0).attr('rx', 4).attr('fill', '#a5ec9b');
      if (pointer) {
        g.append('path').attr('d', `M${pointer[0]},${y1}L${pointer[1]},${pointer[2]}L${pointer[3]},${y1}Z`).attr('fill', '#a5ec9b');
      }
      lines.forEach((s, i) => {
        g.append('text').attr('x', (x0 + x1) / 2).attr('y', lineY[i])
          .attr('text-anchor', 'middle').attr('dominant-baseline', 'central')
          .attr('font-family', FONT).attr('font-size', size).attr('fill', '#2f3b45').text(s);
      });
    };

    drawTrade(trade58, [309, 499, 491, 690], [508, 588]);
    drawTrade(trade59, [531, 720, 337, 537]);
    drawTrade(trade60, [642, 832, 415, 614], [840, 520]);
    drawResults(dailyResults, [667, 1100, 362, 468], [388, 416, 444], 24.5, [850, 882, 483, 900]);
    drawTrade(trade61, [911, 1101, 487, 687]);
    drawTrade(trade62, [1013, 1184, 416, 617]);
    drawTrade(trade63, [1033, 1224, 509, 710]);
    drawTrade(trade64, [1139, 1308, 438, 637]);
    drawTrade(trade65, [1271, 1460, 488, 689]);
    drawTrade(trade66, [1365, 1553, 502, 702]);
    drawTrade(trade67, [1828, 1997, 367, 566]);
    drawTrade(trade68, [1850, 2042, 472, 671], [2055, 569]);
    drawResults(weeklyResults, [2020, 2506, 312, 530], [338, 366, 394, 422, 450, 478, 506], 24.5);

    // status table
    const table = svg.append('g');
    table.append('rect').attr('x', 2164).attr('y', 996).attr('width', 334).attr('height', 158).attr('fill', 'rgba(28,28,34,0.55)');
    [1035, 1075, 1115].forEach(ry => {
      table.append('line').attr('x1', 2164).attr('x2', 2498).attr('y1', ry).attr('y2', ry).attr('stroke', '#787b86').attr('stroke-width', 2);
    });
    table.append('line').attr('x1', 2360).attr('x2', 2360).attr('y1', 996).attr('y2', 1154).attr('stroke', '#787b86').attr('stroke-width', 2);
    tableRows.forEach((s, i) => {
      table.append('text').attr('x', 2172).attr('y', 1015 + i * 40)
        .attr('dominant-baseline', 'central').attr('font-family', FONT).attr('font-size', 19.5)
        .attr('letter-spacing', 0.4).attr('fill', '#f0f0f0').text(s);
    });
    table.append('text').attr('x', 2414).attr('y', 1015).attr('dominant-baseline', 'central')
      .attr('font-family', FONT).attr('font-size', 19.5).attr('fill', '#e08a1e').text('M1');
    table.append('text').attr('x', 2430).attr('y', 1055).attr('text-anchor', 'middle').attr('dominant-baseline', 'central')
      .attr('font-family', '"DejaVu Sans"').attr('font-weight', 700).attr('font-size', 24).attr('fill', '#ffffff').text('↓');
    [['No (42%)', 1095], ['No', 1135]].forEach(([s, cy]) => {
      table.append('circle').attr('cx', 2379).attr('cy', cy as number).attr('r', 11).attr('fill', 'url(#ball)');
      table.append('text').attr('x', 2395).attr('y', cy as number).attr('dominant-baseline', 'central')
        .attr('font-family', FONT).attr('font-size', 19.5).attr('letter-spacing', 0.4).attr('fill', '#5aa84a').text(s as string);
    });

    // cloud and candles sit over the labels
    const area = d3.area<number[]>().x(d => x(d[0])).y0(d => y(d[2])).y1(d => y(d[1]));
    const plots = svg.append('g').attr('clip-path', 'url(#pane)');
    plots.append('g').selectAll('path').data(greenCloud).join('path')
      .attr('d', d => area(d)).attr('fill', 'rgba(106,168,79,0.3)');
    plots.append('g').selectAll('path').data(redCloud).join('path')
      .attr('d', d => area(d)).attr('fill', 'rgba(180,60,60,0.5)');

    const candles = candleClose.map((close, i) => {
      const prev = i > 0 ? candleClose[i - 1] : close;
      const open = Math.min(candleHigh[i], Math.max(candleLow[i], prev));
      return { bar: firstCandleBar + i * candleStep, high: candleHigh[i], low: candleLow[i], open, close };
    });
    const candleColor = (d: { open: number; close: number }) => (d.close >= d.open ? '#3f9a87' : '#f0434f');
    const candleG = plots.append('g').selectAll('g').data(candles).join('g');
    candleG.append('line')
      .attr('x1', d => x(d.bar)).attr('x2', d => x(d.bar))
      .attr('y1', d => y(d.high)).attr('y2', d => y(d.low))
      .attr('stroke', candleColor).attr('stroke-width', 1.4);
    candleG.append('rect')
      .attr('x', d => x(d.bar) - 1.2)
      .attr('width', 2.4)
      .attr('y', d => y(Math.max(d.open, d.close)))
      .attr('height', d => Math.max(1, Math.abs(y(d.open) - y(d.close))))
      .attr('fill', candleColor);

    // right edge price tags
    [['#3e9c8a', 255], ['#e8464f', 412], ['#787b86', 487], ['#3e9c8a', 598]].forEach(([c, ty]) => {
      svg.append('rect').attr('x', 2520).attr('y', ty as number).attr('width', 6).attr('height', 33).attr('fill', c as string);
    });
    [['#3e9c8a', 862], ['#9c27b0', 896], ['#ffd54f', 931], ['#6aa84f', 965], ['#90cde8', 999]].forEach(([c, ty]) => {
      svg.append('rect').attr('x', 2521).attr('y', ty as number).attr('width', 8).attr('height', 32)
        .attr('fill', '#0f0f0f').attr('stroke', c as string).attr('stroke-width', 2);
    });

    // time axis
    const axis = svg.append('g').attr('transform', `translate(0,${PANE_BOTTOM})`)
      .call(d3.axisBottom(x).tickValues(tickBars).tickSize(0).tickPadding(19).tickFormat((_, i) => tickLabels[i]));
    axis.select('.domain').remove();
    axis.selectAll('text')
      .attr('font-family', FONT).attr('font-size', 24).attr('letter-spacing', 0.5).attr('fill', '#a3a3a3')
      .attr('font-weight', (_, i) => (tickLabels[i] === '13' ? 700 : 400));

    // toolbar bits
    const toggle = svg.append('g');
    toggle.append('rect').attr('x', 27).attr('y', 23).attr('width', 64).attr('height', 40).attr('rx', 5)
      .attr('fill', 'rgba(15,15,15,0.65)').attr('stroke', '#3c3c3c').attr('stroke-width', 2);
    toggle.append('path').attr('d', 'M40,40L47,46L54,40').attr('fill', 'none').attr('stroke', '#e0e0e0').attr('stroke-width', 2.5);
    toggle.append('text').attr('x', 75).attr('y', 44).attr('text-anchor', 'middle').attr('dominant-baseline', 'central')
      .attr('font-family', FONT).attr('font-size', 24).attr('fill', '#e0e0e0').text('3');
    toggle.append('circle').attr('cx', 142).attr('cy', 43).attr('r', 18).attr('fill', 'rgba(140,105,225,0.35)');
    const arc = d3.arc();
    [[0.3, 2.75], [3.45, 5.9]].forEach(([a0, a1]) => {
      toggle.append('path').attr('transform', 'translate(142,43)')
        .attr('d', arc({ innerRadius: 10, outerRadius: 12.4, startAngle: a0, endAngle: a1 }) as string)
        .attr('fill', '#b08cf5');
    });
    toggle.append('path').attr('d', 'M147,40L156,40L156,33Z').attr('fill', '#b08cf5');
    toggle.append('path').attr('d', 'M128,46L137,46L128,53Z').attr('fill', '#b08cf5');

    // broker logo
    const logo = svg.append('g').attr('fill', '#e4e4e4').attr('stroke', '#0a0a0a').attr('stroke-width', 4).attr('paint-order', 'stroke');
    logo.append('path').attr('d', 'M33,1116L63,1116L63,1146L45,1146L45,1131L33,1131Z');
    logo.append('circle').attr('cx', 67).attr('cy', 1122).attr('r', 5.5);
    logo.append('path').attr('d', 'M83,1116L94,1116L82,1146L68,1146Z');
  }, []);

  return <svg ref={svgRef} width={WIDTH} height={HEIGHT} style={{ position: 'fixed', left: 0, top: 0 }}></svg>;
};

export default App;
